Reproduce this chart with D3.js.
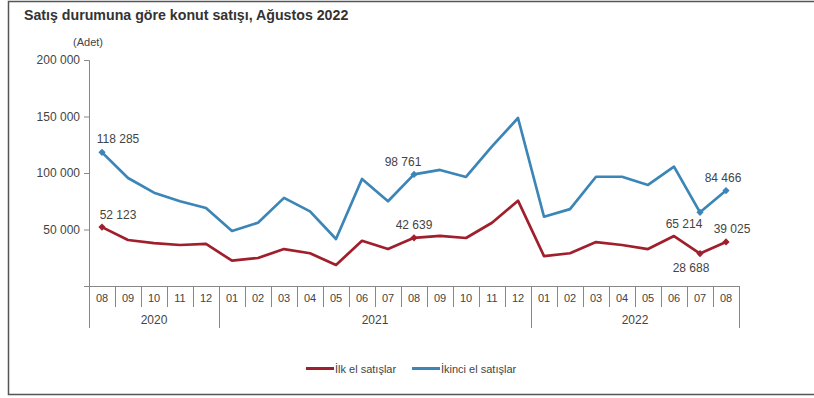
<!DOCTYPE html>
<html>
<head>
<meta charset="utf-8">
<script src="https://cdn.jsdelivr.net/npm/d3@7"></script>
<style>
  html, body { margin: 0; padding: 0; background: #fff; }
  svg { display: block; font-family: "Liberation Sans", Arial, sans-serif; }
</style>
</head>
<body>
<svg id="chart" width="814" height="398"></svg>
<script>
// Monthly house sales by sale type, 08/2020 - 08/2022
const months = ["08","09","10","11","12","01","02","03","04","05","06","07","08","09","10","11","12","01","02","03","04","05","06","07","08"];
const years = [
  { label: "2020", from: 0, to: 4 },
  { label: "2021", from: 5, to: 16 },
  { label: "2022", from: 17, to: 24 }
];
const firstHandSales = [52123, 40700, 38000, 36300, 37200, 22400, 24800, 32700, 29000, 18600, 40000, 32700, 42639, 44300, 42500, 56000, 75500, 26500, 29000, 38900, 36300, 32700, 44200, 28688, 39025];
const secondHandSales = [118285, 95600, 82600, 75000, 69000, 48700, 56000, 78000, 66000, 41600, 94700, 75000, 98761, 102700, 96500, 123500, 148700, 61300, 68000, 96700, 96700, 89400, 105600, 65214, 84466];
const yTicks = [50000, 100000, 150000, 200000];
const seriesNames = ["İlk el satışlar", "İkinci el satışlar"];

const colors = { first: "#a01f2d", second: "#3b85b7" };
const fmt = v => d3.format(",")(v).replace(/,/g, " ");

const svg = d3.select("#chart");

// outer frame
svg.append("path")
  .attr("d", "M820,1.5 H8.5 V394.5 H820")
  .attr("fill", "none").attr("stroke", "#555").attr("stroke-width", 1.5);

// title
svg.append("text").attr("x", 24).attr("y", 20)
  .attr("font-size", 14.2).attr("font-weight", "bold").attr("fill", "#333")
  .text("Satış durumuna göre konut satışı, Ağustos 2022");

svg.append("text").attr("x", 88).attr("y", 46).attr("text-anchor", "middle")
  .attr("font-size", 11).attr("fill", "#444").text("(Adet)");

const x = d3.scaleBand().domain(d3.range(months.length)).range([89, 739]).padding(0);
const y = d3.scaleLinear().domain([0, 200000]).range([286, 60]);
const cx = i => x(i) + x.bandwidth() / 2;

// y axis
const yAxis = svg.append("g").attr("transform", "translate(89,0)")
  .call(d3.axisLeft(y).tickValues(yTicks).tickSize(5).tickPadding(4).tickFormat(fmt));
yAxis.select(".domain").attr("stroke", "#888").attr("d", "M-5,60.5H0.5V286");
yAxis.selectAll(".tick line").attr("stroke", "#888");
yAxis.selectAll(".tick text").attr("font-size", 12).attr("fill", "#444")
  .attr("font-family", "Liberation Sans, Arial, sans-serif");

// x axis: month cells and year groups
const xg = svg.append("g");
xg.append("line").attr("x1", 84).attr("x2", 739).attr("y1", 286.5).attr("y2", 286.5)
  .attr("stroke", "#888");
const yearEdges = new Set();
years.forEach(yr => { yearEdges.add(yr.from); yearEdges.add(yr.to + 1); });
d3.range(months.length + 1).forEach(i => {
  const xx = Math.round(i < months.length ? x(i) : x(months.length - 1) + x.bandwidth()) + 0.5;
  xg.append("line").attr("x1", xx).attr("x2", xx).attr("y1", 286)
    .attr("y2", yearEdges.has(i) ? 328 : 307).attr("stroke", "#888");
});
xg.selectAll(".m").data(months).join("text")
  .attr("x", (d, i) => cx(i)).attr("y", 302).attr("text-anchor", "middle")
  .attr("font-size", 11).attr("fill", "#444").text(d => d);
xg.selectAll(".yr").data(years).join("text")
  .attr("x", d => (x(d.from) + x(d.to) + x.bandwidth()) / 2).attr("y", 324)
  .attr("text-anchor", "middle").attr("font-size", 12).attr("fill", "#444").text(d => d.label);

// lines
const line = d3.line().x((d, i) => cx(i)).y(d => y(d));
svg.append("path").datum(secondHandSales).attr("d", line)
  .attr("fill", "none").attr("stroke", colors.second).attr("stroke-width", 2.7).attr("stroke-linejoin", "round");
svg.append("path").datum(firstHandSales).attr("d", line)
  .attr("fill", "none").attr("stroke", colors.first).attr("stroke-width", 2.7).attr("stroke-linejoin", "round");

// annotated points: [series, index, dx, dy, colour]
const notes = [
  [secondHandSales, 0, 16, -9, colors.second],
  [firstHandSales, 0, 16, -8, colors.first],
  [secondHandSales, 12, -11, -8, colors.second],
  [firstHandSales, 12, 0, -9, colors.first],
  [secondHandSales, 23, -16, 16, colors.second],
  [firstHandSales, 23, -9, 18, colors.first],
  [secondHandSales, 24, -3, -9, colors.second],
  [firstHandSales, 24, 6, -9, colors.first]
];
const marker = d3.symbol().type(d3.symbolSquare).size(26);
notes.forEach(([s, i, dx, dy, c]) => {
  svg.append("path").attr("d", marker)
    .attr("transform", `translate(${cx(i)},${y(s[i])}) rotate(45)`).attr("fill", c);
  svg.append("text").attr("x", cx(i) + dx).attr("y", y(s[i]) + dy)
    .attr("text-anchor", "middle").attr("font-size", 12).attr("fill", "#444").text(fmt(s[i]));
});

// legend
const legend = [
  { name: seriesNames[0], color: colors.first, x: 306 },
  { name: seriesNames[1], color: colors.second, x: 412 }
];
legend.forEach(l => {
  svg.append("line").attr("x1", l.x).attr("x2", l.x + 28).attr("y1", 368.5).attr("y2", 368.5)
    .attr("stroke", l.color).attr("stroke-width", 3);
  svg.append("text").attr("x", l.x + 29).attr("y", 372.5).attr("font-size", 11)
    .attr("fill", "#444").text(l.name);
});
</script>
</body>
</html>
